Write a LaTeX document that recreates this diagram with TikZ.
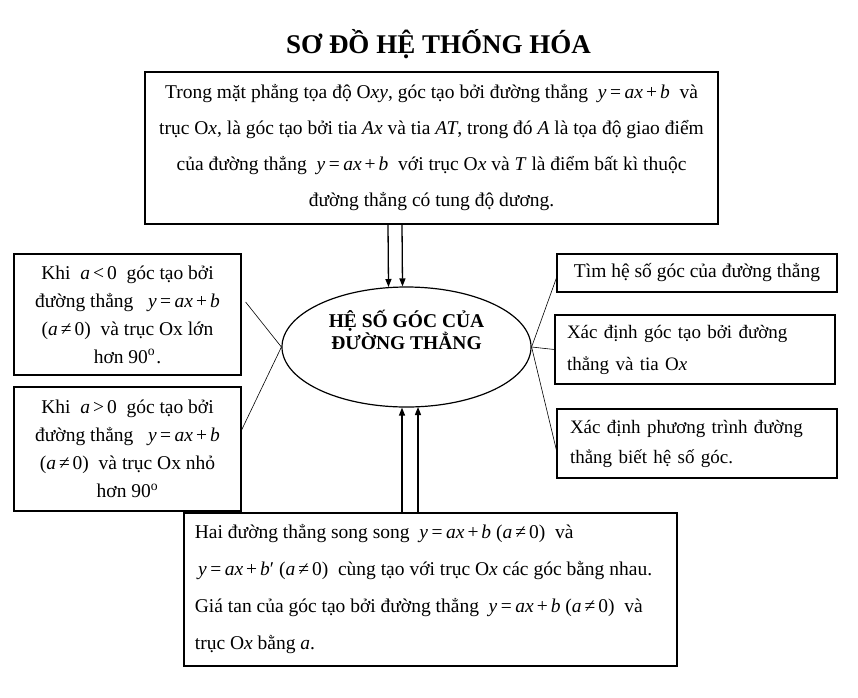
\documentclass[tikz,border=0pt]{standalone}
\usepackage{fontspec}
\setmainfont{Liberation Serif}
\usetikzlibrary{arrows.meta,shapes.geometric,calc}
\newcommand\vi[1]{\textit{#1}}
\newcommand\lineq{\vi{y}\kern3.5pt=\kern3.5pt\vi{ax}\kern3pt+\kern3pt\vi{b}}
\newcommand\aneq{(\vi{a}\kern3pt≠\kern3pt0)}
\begin{document}
\begin{tikzpicture}[x=1pt,y=-1pt,
  box/.style={draw,line width=1.2pt,inner sep=0pt,align=center},
  con/.style={line width=0.6pt},
  arr/.style={line width=1.3pt,-{Triangle[length=8pt,width=6pt]}}]
\useasboundingbox (0,0) rectangle (858,697);
\node (title) at (438.5,44) {\fontsize{27}{30}\selectfont\bfseries SƠ ĐỒ HỆ THỐNG HÓA};
\node[box,font=\fontsize{19.5}{36}\selectfont,minimum width=573pt,minimum height=152pt] (top) at (431.5,148)
 {Trong mặt phẳng tọa độ O\vi{xy}, góc tạo bởi đường thẳng \ \lineq\ \ và\\
  trục O\vi{x}, là góc tạo bởi tia \vi{Ax} và tia \vi{AT}, trong đó \vi{A} là tọa độ giao điểm\\
  của đường thẳng \ \lineq\ \ với trục O\vi{x} và \vi{T} là điểm bất kì thuộc\\
  đường thẳng có tung độ dương.};
\node[draw,ellipse,line width=1.2pt,minimum width=249pt,minimum height=120pt,inner sep=0pt,align=center,
  font=\fontsize{19.5}{21}\selectfont\bfseries] (ell) at (406.5,347)
 {HỆ SỐ GÓC CỦA\\ĐƯỜNG THẲNG\\[14pt]};
\node[box,font=\fontsize{19.5}{28}\selectfont,minimum width=227pt,minimum height=121pt] (l1) at (127.5,314.5)
 {Khi \ \vi{a}\kern3pt<\kern3pt0\ \ góc tạo bởi\\
  đường thẳng \ \ \lineq\\
  \aneq\ \ và trục Ox lớn\\
  hơn 90\textsuperscript{o}\kern1pt.};
\node[box,font=\fontsize{19.5}{28}\selectfont,minimum width=227pt,minimum height=124pt] (l2) at (127.5,449)
 {Khi \ \vi{a}\kern3pt>\kern3pt0\ \ góc tạo bởi\\
  đường thẳng \ \ \lineq\\
  \aneq\ \ và trục Ox nhỏ\\
  hơn 90\textsuperscript{o}};
\node[box,font=\fontsize{19.5}{30}\selectfont,minimum width=280pt,minimum height=38pt] (r1) at (697,273)
 {Tìm hệ số góc của đường thẳng};
\node[box,font=\fontsize{19}{32}\selectfont,minimum width=280pt,minimum height=69pt,inner xsep=12pt,text width=256pt,align=left] (r2) at (695,349.5)
 {Xác định góc tạo bởi đường\\thẳng và tia O\vi{x}};
\node[box,font=\fontsize{19}{30}\selectfont,minimum width=280pt,minimum height=69pt,inner xsep=13pt,text width=254pt,align=left] (r3) at (697,443.5)
 {Xác định phương trình đường\\thẳng biết hệ số góc.};
\node[box,font=\fontsize{19.5}{37}\selectfont,minimum width=493pt,minimum height=153pt,align=left] (bot) at (430.5,589.5)
 {Hai đường thẳng song song \ \lineq\ \aneq\ \ và\\
  \,\vi{y}\kern3.5pt=\kern3.5pt\vi{ax}\kern3pt+\kern3pt\vi{b}′\ \aneq\ \ cùng tạo với trục O\vi{x} các góc bằng nhau.\rule{14pt}{0pt}\\
  Giá tan của góc tạo bởi đường thẳng \ \lineq\ \aneq\ \ và\\
  trục O\vi{x} bằng \vi{a}.};
% arrows top -> ellipse
\draw[arr] ([xshift=-43.5pt]top.south) -- ([xshift=-18pt,yshift=-0.6pt]ell.north);
\draw[arr] ([xshift=-29.5pt]top.south) -- ([xshift=-4pt]ell.north);
% arrows bottom -> ellipse
\draw[arr] ([xshift=-28.5pt]bot.north) -- ([xshift=-4.5pt]ell.south);
\draw[arr] ([xshift=-12.5pt]bot.north) -- ([xshift=11.5pt,yshift=0.6pt]ell.south);
% left connectors
\draw[con] ([shift={(4,-12.5)}]l1.east) -- (ell.west);
\draw[con] ([shift={(0,-19)}]l2.east) -- (ell.west);
% right connectors
\draw[con] (ell.east) -- ([shift={(0,5)}]r1.west);
\draw[con] (ell.east) -- (r2.west);
\draw[con] (ell.east) -- ([shift={(0,6.5)}]r3.west);
\end{tikzpicture}
\end{document}
